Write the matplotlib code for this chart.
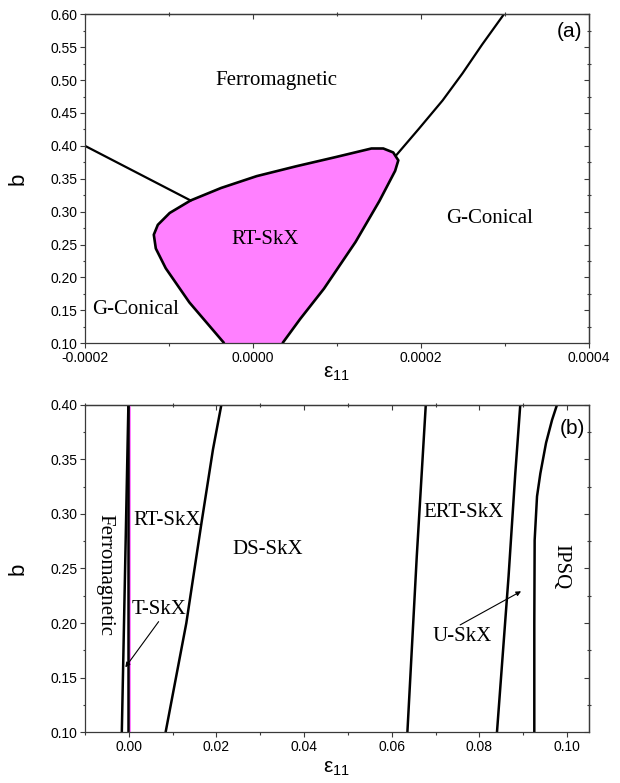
import numpy as np
from matplotlib import pyplot as plt
from matplotlib.ticker import MultipleLocator, FormatStrFormatter, NullFormatter

plt.rcParams['font.family'] = ['Liberation Sans', 'DejaVu Sans']
plt.rcParams['mathtext.fontset'] = 'custom'
plt.rcParams['mathtext.rm'] = 'Liberation Sans'

# ---------------- panel (a) data --------------------------------
# RT-SkX pocket outline, left branch -> top -> right branch
rt_x = [-0.0000342, -0.0000757, -0.0001039, -0.0001157, -0.0001181, -0.0001133,
        -0.0000992, -0.0000743, -0.0000380, 0.0000044, 0.0000515, 0.0000986,
        0.0001410, 0.0001551, 0.0001669, 0.0001730, 0.0001692, 0.0001504,
        0.0001221, 0.0000845, 0.0000562, 0.0000350]
rt_b = [0.100, 0.162, 0.214, 0.244, 0.265, 0.280,
        0.298, 0.317, 0.336, 0.354, 0.369, 0.383,
        0.396, 0.396, 0.390, 0.378, 0.362, 0.316,
        0.254, 0.183, 0.137, 0.100]

# Ferromagnetic / G-Conical boundary on the left
fg_left_x = [-0.0002, -0.0000743]
fg_left_b = [0.400, 0.317]

# Ferromagnetic / G-Conical boundary on the right
fg_right_x = [0.0001707, 0.0001975, 0.0002257, 0.0002493, 0.0002728, 0.0002987]
fg_right_b = [0.386, 0.426, 0.469, 0.510, 0.554, 0.600]

# ---------------- panel (b) data --------------------------------
ferro_x = [-0.0016, -0.0001]
ferro_b = [0.10, 0.40]

rt_edge_x = [-0.0001, -0.0001]
rt_edge_b = [0.10, 0.40]
rt_right_x = [0.0004, 0.0004]

ds_x = [0.00839, 0.01312, 0.01655, 0.01920, 0.02112]
ds_b = [0.100, 0.200, 0.291, 0.359, 0.400]

ert_x = [0.06356, 0.06570, 0.06776]
ert_b = [0.100, 0.261, 0.400]

u_x = [0.08400, 0.08665, 0.08818, 0.08932]
u_b = [0.100, 0.243, 0.337, 0.400]

ipsq_x = [0.09252, 0.09252, 0.09260, 0.09314, 0.09390, 0.09520, 0.09657, 0.09771]
ipsq_b = [0.100, 0.200, 0.276, 0.316, 0.337, 0.365, 0.386, 0.400]

pink = '#ff80ff'
spine_c = '#3a3a3a'
serif = 'Liberation Serif'

fig = plt.figure(figsize=(6.2, 7.83), dpi=100)
ax1 = fig.add_axes([0.1371, 0.5616, 0.8129, 0.4202])
ax2 = fig.add_axes([0.1371, 0.0648, 0.8129, 0.4184])


def style_axes(ax, xmaj, xmin, ymaj, ymin, xfmt):
    ax.xaxis.set_major_locator(MultipleLocator(xmaj))
    ax.xaxis.set_minor_locator(MultipleLocator(xmin))
    ax.yaxis.set_major_locator(MultipleLocator(ymaj))
    ax.yaxis.set_minor_locator(MultipleLocator(ymin))
    ax.xaxis.set_major_formatter(FormatStrFormatter(xfmt))
    ax.yaxis.set_major_formatter(FormatStrFormatter('%.2f'))
    for s in ax.spines.values():
        s.set_color(spine_c)
        s.set_linewidth(0.9)
    ax.tick_params(which='major', direction='out', length=3.3, width=0.8,
                   color=spine_c, labelsize=10, pad=2)
    ax.tick_params(which='minor', direction='out', length=1.8, width=0.8, color=spine_c)

    # opposite sides: major ticks inside, minor ticks across the spine, no labels
    top = ax.secondary_xaxis('top')
    right = ax.secondary_yaxis('right')
    top.xaxis.set_major_locator(MultipleLocator(xmaj))
    top.xaxis.set_minor_locator(MultipleLocator(xmin))
    top.xaxis.set_major_formatter(NullFormatter())
    right.yaxis.set_major_locator(MultipleLocator(ymaj))
    right.yaxis.set_minor_locator(MultipleLocator(ymin))
    right.yaxis.set_major_formatter(NullFormatter())
    for sec in (top, right):
        sec.tick_params(which='major', direction='in', length=3.3, width=0.8, color=spine_c)
        sec.tick_params(which='minor', direction='inout', length=3.0, width=0.8, color=spine_c)
        for s in sec.spines.values():
            s.set_color(spine_c)
            s.set_linewidth(0.9)


# ---------------- panel (a) --------------------------------
ax1.fill(rt_x, rt_b, color=pink, lw=0, zorder=1)
ax1.plot(rt_x, rt_b, color='black', lw=1.9, zorder=3, solid_capstyle='butt')
ax1.plot(fg_left_x, fg_left_b, color='black', lw=1.6, zorder=2)
ax1.plot(fg_right_x, fg_right_b, color='black', lw=1.6, zorder=2)
ax1.set_xlim(-0.0002, 0.0004)
ax1.set_ylim(0.10, 0.60)
style_axes(ax1, 0.0002, 0.0001, 0.05, 0.025, '%.4f')

ax1.text(0.000028, 0.500, 'Ferromagnetic', family=serif, fontsize=15, ha='center', va='center')
ax1.text(0.000015, 0.257, 'RT-SkX', family=serif, fontsize=15, ha='center', va='center')
ax1.text(0.000282, 0.290, 'G-Conical', family=serif, fontsize=15, ha='center', va='center')
ax1.text(-0.000140, 0.152, 'G-Conical', family=serif, fontsize=15, ha='center', va='center')
ax1.text(0.000377, 0.574, '(a)', fontsize=15, ha='center', va='center')

ax1.set_ylabel('b', fontsize=16)
ax1.yaxis.set_label_coords(-0.112, 0.5)
ax1.set_xlabel('ε$_{\\mathregular{11}}$', fontsize=15)
ax1.xaxis.set_label_coords(0.5, -0.062)

# ---------------- panel (b) --------------------------------
ax2.fill_betweenx(rt_edge_b, rt_edge_x, rt_right_x, color=pink, lw=0, zorder=1)
ax2.plot(rt_edge_x, rt_edge_b, color='black', lw=1.8, zorder=2)
ax2.plot(ferro_x, ferro_b, color='black', lw=1.8, zorder=2)
ax2.plot(ds_x, ds_b, color='black', lw=1.8, zorder=2)
ax2.plot(ert_x, ert_b, color='black', lw=1.8, zorder=2)
ax2.plot(u_x, u_b, color='black', lw=1.8, zorder=2)
ax2.plot(ipsq_x, ipsq_b, color='black', lw=1.8, zorder=2)
ax2.set_xlim(-0.01, 0.105)
ax2.set_ylim(0.10, 0.40)
style_axes(ax2, 0.02, 0.01, 0.05, 0.025, '%.2f')

ax2.text(-0.0055, 0.244, 'Ferromagnetic', family=serif, fontsize=15, ha='center', va='center',
         rotation=-90)
ax2.text(0.0087, 0.294, 'RT-SkX', family=serif, fontsize=15, ha='center', va='center')
ax2.text(0.0068, 0.212, 'T-SkX', family=serif, fontsize=15, ha='center', va='center')
ax2.text(0.0317, 0.267, 'DS-SkX', family=serif, fontsize=15, ha='center', va='center')
ax2.text(0.0764, 0.301, 'ERT-SkX', family=serif, fontsize=15, ha='center', va='center')
ax2.text(0.0985, 0.252, 'IPSQ', family=serif, fontsize=15, ha='center', va='center',
         rotation=-90)
ax2.text(0.0760, 0.1875, 'U-SkX', family=serif, fontsize=15, ha='center', va='center')
ax2.text(0.1012, 0.378, '(b)', fontsize=15, ha='center', va='center')

arrow = dict(arrowstyle='-|>', color='black', lw=0.8, mutation_scale=7, shrinkA=0, shrinkB=0)
ax2.annotate('', xy=(-0.0008, 0.1595), xytext=(0.0068, 0.2013), arrowprops=arrow)
ax2.annotate('', xy=(0.0895, 0.2291), xytext=(0.0756, 0.1983), arrowprops=arrow)

ax2.set_ylabel('b', fontsize=16)
ax2.yaxis.set_label_coords(-0.112, 0.5)
ax2.set_xlabel('ε$_{\\mathregular{11}}$', fontsize=15)
ax2.xaxis.set_label_coords(0.5, -0.082)

fig.savefig('out.png', dpi=100)
